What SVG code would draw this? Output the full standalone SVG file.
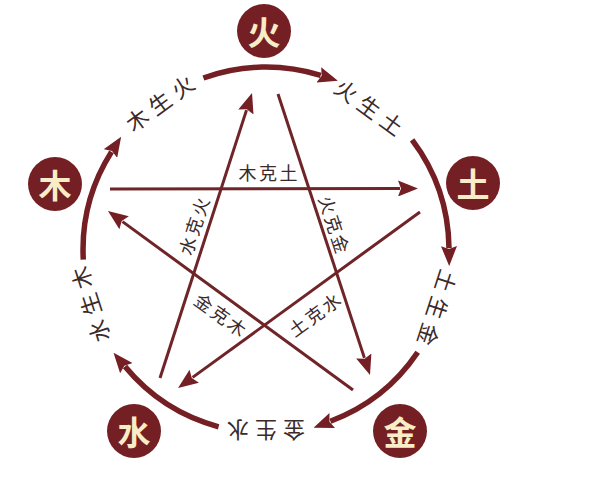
<svg xmlns="http://www.w3.org/2000/svg" width="610" height="480" viewBox="0 0 610 480">
  <style>
    .node circle { fill: #741f24; }
    .node text { fill: #f8edc6; font-family: "Noto Sans CJK SC", "Noto Sans", sans-serif; font-size: 33px; font-weight: bold; text-anchor: middle; dominant-baseline: central; }
    .arc { fill: none; stroke: #741f24; stroke-width: 5.5; marker-end: url(#arrow); }
    .star { fill: none; stroke: #6f2428; stroke-width: 3; marker-end: url(#arrow); }
    .lbl { fill: #3a2a2a; font-family: "Noto Sans CJK SC", "Noto Sans", sans-serif; text-anchor: middle; dominant-baseline: central; }
    .outer { font-size: 22px; letter-spacing: 6px; }
    .inner { font-size: 18px; letter-spacing: 2.5px; }
  </style>
  <defs>
    <marker id="arrow" markerUnits="userSpaceOnUse" viewBox="0 0 20 16" markerWidth="20" markerHeight="16" refX="2" refY="8" orient="auto">
      <path d="M0,0 L20,8 L0,16 L3,8 z" fill="#741f24"/>
    </marker>
  </defs>
  <rect width="610" height="480" fill="#ffffff"/>

  <g id="connectors">
    <path class="arc" d="M203.4,78.0 A183,183 0 0 1 320.7,75.4"/>
    <path class="arc" d="M412.1,139.9 A183,183 0 0 1 449.0,248.1"/>
    <path class="arc" d="M417.7,352.3 A183,183 0 0 1 330.4,421.3"/>
    <path class="arc" d="M218.6,426.8 A183,183 0 0 1 125.0,366.6"/>
    <path class="arc" d="M83.3,259.6 A183,183 0 0 1 111.5,151.9"/>

    <line class="star" x1="110" y1="189" x2="400" y2="188.5"/>
    <line class="star" x1="278" y1="94" x2="364.4" y2="357.9"/>
    <line class="star" x1="420" y1="212" x2="192.6" y2="377.4"/>
    <line class="star" x1="160" y1="378" x2="246.5" y2="110.1"/>
    <line class="star" x1="353" y1="390" x2="122.5" y2="221.6"/>
  </g>

  <g id="outer-labels">
    <text class="lbl outer" transform="translate(159,102) rotate(-36)" x="3">木生火</text>
    <text class="lbl outer" transform="translate(370,106) rotate(36)" x="3">火生土</text>
    <text class="lbl outer" transform="translate(438.5,308.5) rotate(108)" x="3">土生金</text>
    <text class="lbl outer" transform="translate(266,432) rotate(180)" x="3">金生水</text>
    <text class="lbl outer" transform="translate(89,305) rotate(252)" x="3">水生木</text>
  </g>

  <g id="inner-labels">
    <text class="lbl inner" transform="translate(268,172)" x="1.25">木克土</text>
    <text class="lbl inner" transform="translate(335,224) rotate(72)" x="1.25">火克金</text>
    <text class="lbl inner" transform="translate(193,226) rotate(-72)" x="1.25">水克火</text>
    <text class="lbl inner" transform="translate(221,314) rotate(36)" x="1.25">金克木</text>
    <text class="lbl inner" transform="translate(314,314) rotate(-36)" x="1.25">土克水</text>
  </g>

  <g id="node-fire" class="node"><circle cx="264" cy="31" r="27"/><text x="264" y="31">火</text></g>
  <g id="node-earth" class="node"><circle cx="473" cy="183" r="27"/><text x="473" y="183">土</text></g>
  <g id="node-metal" class="node"><circle cx="400" cy="431" r="27"/><text x="400" y="431">金</text></g>
  <g id="node-water" class="node"><circle cx="134" cy="431" r="27"/><text x="134" y="431">水</text></g>
  <g id="node-wood" class="node"><circle cx="55" cy="184" r="27"/><text x="55" y="184">木</text></g>
</svg>
